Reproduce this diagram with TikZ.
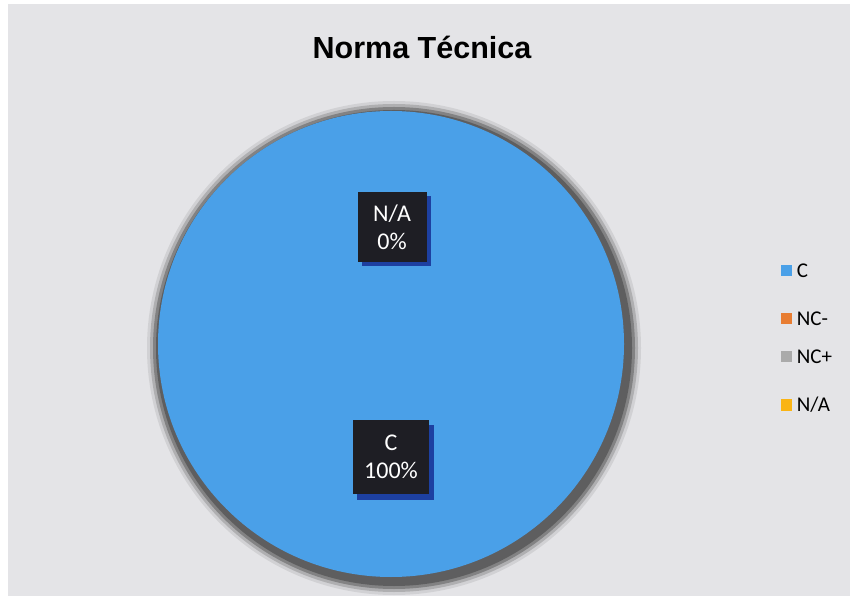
\documentclass[tikz,border=0pt]{standalone}
\usepackage{fontspec}
\setmainfont{Carlito}
\newfontfamily\titlefont{Liberation Sans}
\definecolor{chartbg}{RGB}{228,228,231}
\definecolor{sliceC}{RGB}{74,160,232}
\definecolor{sliceNCm}{RGB}{232,125,50}
\definecolor{sliceNCp}{RGB}{170,170,170}
\definecolor{sliceNA}{RGB}{250,180,20}
\definecolor{labelbg}{RGB}{30,30,36}
\tikzset{
    data label/.style = {
        fill = labelbg,
        text = white,
        align = center,
        inner sep = 4pt,
        font = \fontsize{24}{28}\selectfont,
        },
    label shadow/.style = {
        fill = blue!45!black,
        opacity = 0.6,
        },
    legend key/.style = {
        minimum size = 11pt,
        inner sep = 0pt,
        },
    legend text/.style = {
        anchor = west,
        inner sep = 2pt,
        font = \fontsize{21}{24}\selectfont,
        },
}
\begin{document}
\begin{tikzpicture}[x=1pt,y=-1pt]
    \useasboundingbox (0,0) rectangle (854,601);
    \fill[white] (0,0) rectangle (854,601);
    \fill[chartbg] (8,4) rectangle (850,596);

    % title
    \node[font=\titlefont\bfseries\fontsize{30.5}{36}\selectfont] (title) at (422,47) {Norma Técnica};

    % shadow of the pie
    \foreach \r/\op in {247/0.12,244/0.25,241/0.45,238/0.65}
        \fill[black!70, opacity=\op] (394,348) circle (\r);
    \fill[sliceC] (391,344) circle (233);
    \coordinate (pie) at (391,344);

    % data labels
    \fill[label shadow] (362,196) rectangle (431,266);
    \node[data label, minimum width=69pt, minimum height=70pt] (lblNA) at (392,227) {N/A\\0\%};
    \fill[label shadow] (357,425) rectangle (434,500);
    \node[data label, minimum width=76pt, minimum height=74pt] (lblC) at (391,457) {C\\100\%};

    % legend
    \node[legend key, fill=sliceC] (keyC) at (786,271) {};
    \node[legend text] (txtC) at ([xshift=3pt]keyC.east) {C};
    \node[legend key, fill=sliceNCm] (keyNCm) at (786,319) {};
    \node[legend text] (txtNCm) at ([xshift=3pt]keyNCm.east) {NC-};
    \node[legend key, fill=sliceNCp] (keyNCp) at (786,357) {};
    \node[legend text] (txtNCp) at ([xshift=3pt]keyNCp.east) {NC+};
    \node[legend key, fill=sliceNA] (keyNA) at (786,405) {};
    \node[legend text] (txtNA) at ([xshift=3pt]keyNA.east) {N/A};
\end{tikzpicture}
\end{document}
